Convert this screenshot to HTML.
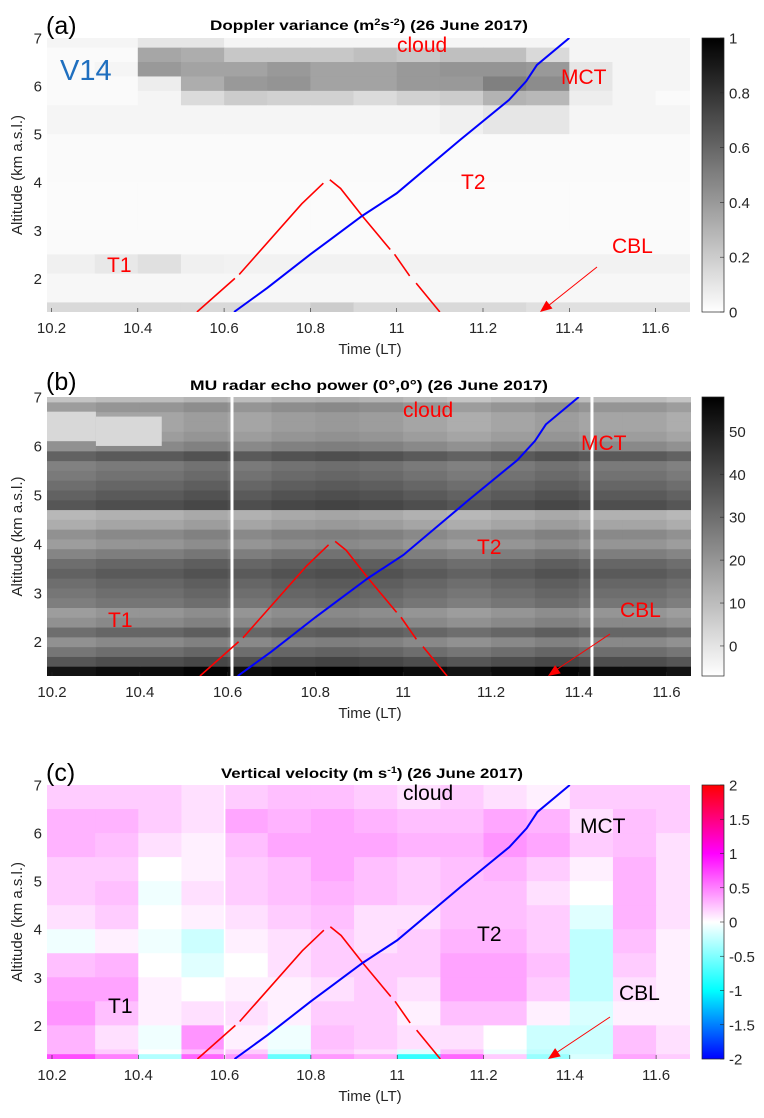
<!DOCTYPE html>
<html><head><meta charset="utf-8"><style>
html,body{margin:0;padding:0;background:#fff;}
svg{display:block;font-family:"Liberation Sans",Arial,sans-serif;}
</style></head><body>
<svg id="fig" width="764" height="1118" viewBox="0 0 764 1118" xmlns="http://www.w3.org/2000/svg"></svg>
<script>
// ---------- data ----------
const timeEdges = [10.2,10.3,10.4,10.5,10.6,10.7,10.8,10.9,11.0,11.1,11.2,11.3,11.4,11.5,11.6,11.7];
// panel a: Doppler variance
const altEdgesA = [7,6.8,6.5,6.2,5.9,5.6,5.0,4.0,3.0,2.5,2.1,1.5,1.3];
const varA = [
 [.04,.04,.1,.1,.04,.04,.04,.04,.04,.04,.04,.04,.04,.04,.04],
 [.02,.02,.35,.32,.22,.22,.22,.25,.22,.25,.25,.15,.04,.04,.04],
 [.02,.04,.4,.36,.36,.4,.36,.36,.4,.42,.42,.4,.1,.04,.04],
 [.02,.02,.07,.32,.4,.42,.36,.36,.4,.4,.5,.45,.1,.04,.04],
 [.02,.02,.04,.14,.2,.18,.18,.14,.18,.2,.3,.28,.07,.04,.02],
 [.04,.04,.04,.04,.04,.04,.04,.04,.04,.06,.1,.1,.04,.04,.04],
 [.02,.02,.02,.02,.02,.02,.02,.02,.02,.02,.02,.02,.02,.02,.02],
 [.015,.015,.015,.015,.015,.015,.015,.015,.015,.015,.015,.015,.015,.015,.015],
 [.02,.02,.02,.02,.02,.02,.02,.02,.02,.02,.02,.02,.02,.02,.02],
 [.06,.09,.12,.06,.05,.05,.05,.05,.05,.05,.05,.05,.05,.05,.05],
 [.03,.03,.03,.03,.03,.03,.03,.03,.03,.03,.03,.03,.03,.03,.03],
 [.15,.15,.15,.15,.15,.15,.2,.15,.15,.15,.15,.12,.12,.12,.12]
];
// panel b: echo power profile (bottom 1.3 → top 7, 0.2 km steps)
const altEdgesB = [1.3,1.5,1.7,1.9,2.1,2.3,2.5,2.7,2.9,3.1,3.3,3.5,3.7,3.9,4.1,4.3,4.5,4.7,4.9,5.1,5.3,5.5,5.7,5.9,6.1,6.3,6.5,6.7,6.9,7.0];
const powerProfile = [55,38,30,23,32,23,20,28,30,32,35,32,26,20,23,16,13,38,35,32,29,27,35,23,18,16,16,20,10];
const powerColShift = [-2,0,0,2,0,2,3,2,0,-2,0,2,0,0,-2];
const blobT = [10.2,10.3];
const blobAlt = [[6.1,6.7],[6.0,6.6]];
// panel c: vertical velocity
const altEdgesC = [7,6.5,6,5.5,5,4.5,4,3.5,3,2.5,2,1.5,1.4,1.3];
const velC = [
 [.2,.2,.2,.12,.2,.25,.25,.2,.12,.2,.12,.06,.2,.2,.2],
 [.3,.3,.2,.12,.35,.3,.35,.3,.25,.25,.35,.3,.12,.25,.2],
 [.3,.25,.12,.06,.25,.35,.35,.35,.3,.3,.42,.35,.2,.25,.12],
 [.2,.2,0,.06,.2,.25,.35,.25,.2,.25,.3,.2,.06,.3,.12],
 [.2,.25,-.06,.12,.2,.25,.3,.25,.2,.25,.25,.12,0,.3,.12],
 [.12,.2,0,.06,.12,.2,.25,.12,.12,.25,.25,.2,-.12,.3,.12],
 [-.06,.06,-.06,-.2,.06,.12,.2,.12,.2,.3,.3,.2,-.25,.25,.06],
 [.25,.3,0,-.12,0,.12,.2,.2,.2,.36,.36,.25,-.25,.2,.06],
 [.36,.36,.06,0,.06,.06,.12,.2,.12,.36,.36,.2,-.25,.12,.06],
 [.42,.25,.06,.12,.12,.06,.2,.2,.06,.25,.25,.06,-.15,.06,.06],
 [.3,.12,-.06,.42,.06,-.06,.25,.2,.12,.12,0,-.2,-.2,.25,.12],
 [.3,.2,0,.25,.2,-.12,.2,.12,-.12,.25,-.06,-.25,-.2,.25,.12],
 [.7,.5,-.3,.6,.4,-.6,.4,.3,-.8,.6,.2,-.4,-.15,.35,.2]
];
// trajectories
const blueT = [10.623,10.7,10.8,10.845,10.92,11.0,11.147,11.26,11.3,11.325,11.4];
const blueAlt = [1.3,1.8,2.5,2.8,3.3,3.77,4.88,5.71,6.1,6.44,7.0];
const redSegT = [[10.537,10.625],[10.635,10.78,10.83],[10.845,10.87,10.92,10.985],[10.995,11.03],[11.045,11.1]];
const redSegAlt = [[1.3,2.0],[2.08,3.55,3.98],[4.05,3.87,3.3,2.6],[2.5,2.05],[1.9,1.3]];
const xTicksA = [10.2,10.4,10.6,10.8,11,11.2,11.4,11.6];
const yTicks = [2,3,4,5,6,7];
const cbTicksA = [0,0.2,0.4,0.6,0.8,1];
const cbTicksB = [0,10,20,30,40,50];
const cbTicksC = [-2,-1.5,-1,-0.5,0,0.5,1,1.5,2];
const annNames = ['cloud','MCT','T2','CBL','T1'];
const annXA = [397,561,461,612,107], annYA=[52,84,189,253,272];
const annXB = [403,581,477,620,108], annYB=[417,450,554,617,627];
const annXC = [403,580,477,619,108], annYC=[800,833,941,1000,1013];

// ---------- helpers ----------
const NS="http://www.w3.org/2000/svg";
const svg=document.getElementById('fig');
function mk(tag,attrs,parent){const e=document.createElementNS(NS,tag);for(const k in attrs)e.setAttribute(k,attrs[k]);(parent||svg).appendChild(e);return e;}
function grayCol(v){v=Math.max(0,Math.min(1,v));const g=Math.round(255*(1-v));return `rgb(${g},${g},${g})`;}
function velCol(v){v=Math.max(-2,Math.min(2,v));
 const stops=[[-2,[0,0,255]],[-1,[0,255,255]],[0,[255,255,255]],[1,[255,0,255]],[2,[255,0,0]]];
 for(let i=0;i<4;i++){const a=stops[i],b=stops[i+1];if(v<=b[0]){const f=(v-a[0])/(b[0]-a[0]);
 const c=a[1].map((x,j)=>Math.round(x+(b[1][j]-x)*f));return `rgb(${c[0]},${c[1]},${c[2]})`;}}
 return 'rgb(255,0,0)';}

const panels=[
 {id:'a',L:47,R:690,T:38,B:312,x0:51.5,px:431.5,tmax:11.68,label:'(a)',labY:25,
  title:['Doppler variance (m','2','s','-2',') (26 June 2017)'],tx:210,tw:318,tY:30,
  tick:xTicksA,cb:cbTicksA,cmin:0,cmax:1,annCol:'#ff0000',ax:annXA,ay:annYA},
 {id:'b',L:47,R:691,T:397,B:676,x0:52,px:439,tmax:11.655,label:'(b)',labY:381,
  title:['MU radar echo power (0°,0°) (26 June 2017)'],tx:190,tw:358,tY:390,
  tick:xTicksA,cb:cbTicksB,cmin:-7,cmax:58,annCol:'#ff0000',ax:annXB,ay:annYB},
 {id:'c',L:47,R:690,T:785,B:1059,x0:52,px:431.5,tmax:11.68,label:'(c)',labY:772,
  title:['Vertical velocity (m s','-1',') (26 June 2017)'],tx:221,tw:302,tY:778,
  tick:xTicksA,cb:cbTicksC,cmin:-2,cmax:2,annCol:'#000000',ax:annXC,ay:annYC}
];

panels.forEach(p=>{
 const X=t=>p.x0+(t-10.2)*p.px;
 const Y=a=>p.T+(7-a)*(p.B-p.T)/5.7;
 const tmin=10.2-(p.x0-p.L)/p.px;
 const g=mk('g',{});
 
 
 const clipId='clip'+p.id;
 const cp=mk('clipPath',{id:clipId},g);
 mk('rect',{x:p.L,y:p.T,width:p.R-p.L,height:p.B-p.T},cp);
 const hm=mk('g',{'clip-path':`url(#${clipId})`},g);
 
 
 mk('rect',{x:p.L,y:p.T,width:p.R-p.L,height:p.B-p.T,fill:'#fff'},hm);
 const cellT=i=>i===0?tmin:timeEdges[i];
 const cellT2=i=>i===timeEdges.length-2?p.tmax+0.02:timeEdges[i+1];
 if(p.id==='a'){
  for(let r=0;r<varA.length;r++)for(let c=0;c<varA[r].length;c++){
   const x1=X(cellT(c)),x2=X(cellT2(c)),y1=Y(altEdgesA[r]),y2=Y(altEdgesA[r+1]);
   const e=mk('rect',{x:x1,y:y1,width:x2-x1+0.5,height:y2-y1+0.5,fill:grayCol(varA[r][c])},hm);
   
   
  }
 } else if(p.id==='b'){
  for(let r=0;r<powerProfile.length;r++)for(let c=0;c<powerColShift.length;c++){
   const v=powerProfile[r]+powerColShift[c];
   const x1=X(cellT(c)),x2=X(cellT2(c)),y1=Y(altEdgesB[r+1]),y2=Y(altEdgesB[r]);
   const e=mk('rect',{x:x1,y:y1,width:x2-x1+0.5,height:y2-y1+0.5,fill:grayCol((v-p.cmin)/(p.cmax-p.cmin))},hm);
   
   
  }
  blobT.forEach((t,i)=>{
   const x1=X(i===0?tmin:t),x2=X(t+(i===0?0.1:0.15));
   const e=mk('rect',{x:x1,y:Y(blobAlt[i][1]),width:x2-x1,height:Y(blobAlt[i][0])-Y(blobAlt[i][1]),fill:grayCol((3-p.cmin)/(p.cmax-p.cmin))},hm);
   
   
  });
  [10.61,11.43].forEach(t=>{
   const e=mk('rect',{x:X(t)-1.5,y:p.T,width:3,height:p.B-p.T,fill:'#fff'},hm);
   
   
  });
 } else {
  for(let r=0;r<velC.length;r++)for(let c=0;c<velC[r].length;c++){
   const x1=X(cellT(c)),x2=X(cellT2(c)),y1=Y(altEdgesC[r]),y2=Y(altEdgesC[r+1]);
   const e=mk('rect',{x:x1,y:y1,width:x2-x1+0.5,height:y2-y1+0.5,fill:velCol(velC[r][c])},hm);
   
   
  }
  const e=mk('rect',{x:X(10.6)-0.8,y:p.T,width:1.6,height:p.B-p.T,fill:'#fff'},hm);
  
  
 }
 redSegT.forEach((seg,i)=>{
  const pts=seg.map((t,j)=>X(t)+','+Y(redSegAlt[i][j])).join(' ');
  const e=mk('polyline',{points:pts,fill:'none',stroke:'#ff0000','stroke-width':1.6},hm);
  
  
 });
 const bl=mk('polyline',{points:blueT.map((t,j)=>X(t)+','+Y(blueAlt[j])).join(' '),fill:'none',stroke:'#0000ff','stroke-width':2},hm);
 
 
 p.tick.forEach(t=>{
  const x=X(t);
  mk('line',{x1:x,y1:p.B,x2:x,y2:p.B-4,stroke:'#262626','stroke-width':0.6},g);
  const e=mk('text',{x:x,y:Y(1.3)+21,'font-size':15,fill:'#262626','text-anchor':'middle'},g);
  
  
  e.textContent=String(t);
 });
 yTicks.forEach(a=>{
  const e=mk('text',{x:42,y:Y(a)+5.5,'font-size':15,fill:'#262626','text-anchor':'end'},g);
  
  
  e.textContent=String(a);
 });
 const yt=mk('text',{x:0,y:0,'font-size':15,fill:'#262626','text-anchor':'middle',transform:`translate(22,${(p.T+p.B)/2}) rotate(-90)`},g);
 
 
 yt.textContent='Altitude (km a.s.l.)';
 const xt=mk('text',{x:370,y:p.B+42,'font-size':15,fill:'#262626','text-anchor':'middle'},g);
 
 
 xt.textContent='Time (LT)';
 const pl=mk('text',{x:46,y:p.labY+9,'font-size':25,fill:'#000'},g);
 
 
 pl.textContent=p.label;
 const ti=mk('text',{x:p.tx,y:p.tY,'font-size':14,'font-weight':'bold',fill:'#000',textLength:p.tw,lengthAdjust:'spacingAndGlyphs'},g);
 
 
 p.title.forEach((s,i)=>{
  const sup = p.title.length>1 && (i%2===1);
  const ts=mk('tspan',sup?{'font-size':9,dy:-5}:(i>0?{dy:5}:{}),ti);
  ts.textContent=s;
 });
 const cbx=702,cbw=22;
 const grad=mk('linearGradient',{id:'grad'+p.id,x1:0,y1:1,x2:0,y2:0},g);
 const nst=20;
 for(let i=0;i<=nst;i++){const v=p.cmin+(p.cmax-p.cmin)*i/nst;
  mk('stop',{offset:i/nst,'stop-color':p.id==='c'?velCol(v):grayCol(i/nst)},grad);}
 const cb=mk('rect',{x:cbx,y:p.T,width:cbw,height:p.B-p.T,fill:`url(#grad${p.id})`,stroke:'#262626','stroke-width':0.7},g);
 
 
 p.cb.forEach(v=>{
  const y=p.B-(v-p.cmin)/(p.cmax-p.cmin)*(p.B-p.T);
  mk('line',{x1:cbx+cbw-4,y1:y,x2:cbx+cbw,y2:y,stroke:'#262626','stroke-width':0.6},g);
  const e=mk('text',{x:cbx+cbw+5,y:y+5.5,'font-size':15,fill:'#262626'},g);
  
  
  e.textContent=String(v);
 });
 annNames.forEach((n,i)=>{
  const e=mk('text',{x:p.ax[i],y:p.ay[i],'font-size':21,fill:p.annCol},g);
  
  
  e.textContent=n;
 });
 const ax1=p.id==='a'?597:610, ax2=p.id==='a'?540:548;
 const ay1=p.B-(p.id==='a'?45:42), ay2=p.B;
 const ar=mk('line',{x1:ax1,y1:ay1,x2:ax2+8,y2:ay2-6,stroke:'#ff0000','stroke-width':1},g);
 
 
 const ang=Math.atan2(ay2-ay1,ax2-ax1);
 const hx=(d,s)=>ax2-d*Math.cos(ang)+s*Math.sin(ang), hy=(d,s)=>ay2-d*Math.sin(ang)-s*Math.cos(ang);
 const ah=mk('polygon',{points:`${ax2},${ay2} ${hx(12,5)},${hy(12,5)} ${hx(12,-5)},${hy(12,-5)}`,fill:'#ff0000'},g);
 
 
 if(p.id==='a'){
  const v=mk('text',{x:60,y:80,'font-size':29,fill:'#1f6fbf'},g);
  
  
  v.textContent='V14';
 }
});
</script>
</body></html>
